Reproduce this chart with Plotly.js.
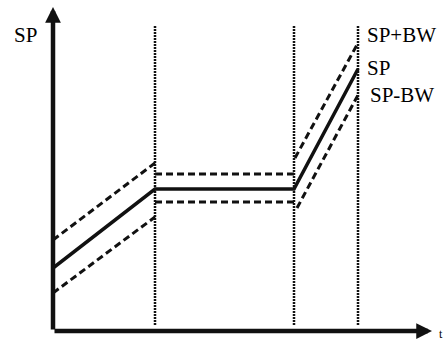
<!DOCTYPE html>
<html>
<head>
<meta charset="utf-8">
<script src="https://cdn.plot.ly/plotly-3.0.1.min.js"></script>
<style>html,body{margin:0;padding:0;background:#fff;}#chart{width:448px;height:344px;}</style>
</head>
<body>
<div id="chart"></div>
<script>
// Time breakpoints and set-point values (chart units)
const tSP = [0, 102, 241, 305];
const sp = [63, 142, 142, 262];
const tUpper = [0, 102, null, 102, 241, null, 242, 305];
const spUpper = [91, 168, null, 157, 157, null, 173, 288];
const tLower = [0, 102, null, 102, 241, null, 244, 305];
const spLower = [38, 114, null, 129, 129, null, 123, 236];
const tMarks = [102, 241, 305];
const markRange = [6, 306];
const labels = ["SP+BW", "SP", "SP-BW"];
const labelY = [296, 263, 236];
const xMax = 379, yMax = 324;

const vx = [], vy = [];
tMarks.forEach(t => { vx.push(t, t, null); vy.push(markRange[0], markRange[1], null); });

const ink = '#111';
const traces = [
  {x: vx, y: vy, mode: 'lines', line: {color: ink, width: 2.5, dash: '2px,1px'}, hoverinfo: 'skip'},
  {x: tUpper, y: spUpper, mode: 'lines', line: {color: ink, width: 3, dash: '7px,4px'}, connectgaps: false},
  {x: tLower, y: spLower, mode: 'lines', line: {color: ink, width: 3, dash: '7px,4px'}, connectgaps: false},
  {x: tSP, y: sp, mode: 'lines', line: {color: ink, width: 3.5}}
];

const font = {family: 'Liberation Serif, Times New Roman, serif', size: 21, color: '#000'};
const ann = [
  {x: 0, y: yMax, ax: 0, ay: 0, axref: 'x', ayref: 'y', xref: 'x', yref: 'y', text: '', showarrow: true,
   arrowhead: 2, arrowsize: 0.7, arrowwidth: 4.5, arrowcolor: ink, standoff: 0},
  {x: xMax, y: 0, ax: 0, ay: 0, axref: 'x', ayref: 'y', xref: 'x', yref: 'y', text: '', showarrow: true,
   arrowhead: 2, arrowsize: 0.7, arrowwidth: 4.5, arrowcolor: ink, standoff: 0},
  {x: -0.109, y: 0.913, xref: 'paper', yref: 'paper', text: 'SP', showarrow: false, xanchor: 'left', yanchor: 'middle', font: font},
  {x: 448, y: 1, xref: 'paper', yref: 'paper', xshift: 0, text: 't', showarrow: false, xanchor: 'right', yanchor: 'bottom',
   font: {family: font.family, size: 12, color: '#000'}}
];
// place the small "t" inside the page corner
ann[3].x = 1 + 13 / 379; ann[3].y = -12 / 324;
labels.forEach((l, i) => ann.push({x: i === 2 ? 315 : 312, y: labelY[i], xref: 'x', yref: 'y', text: l, showarrow: false,
  xanchor: 'left', yanchor: 'middle', font: font}));

const layout = {
  width: 448, height: 344,
  margin: {l: 53, r: 16, t: 7, b: 13, pad: 0},
  paper_bgcolor: '#fff', plot_bgcolor: '#fff',
  showlegend: false,
  xaxis: {range: [0, xMax], visible: false, fixedrange: true},
  yaxis: {range: [0, yMax], visible: false, fixedrange: true},
  annotations: ann
};
Plotly.newPlot('chart', traces, layout, {staticPlot: true, displayModeBar: false});
</script>
</body>
</html>
